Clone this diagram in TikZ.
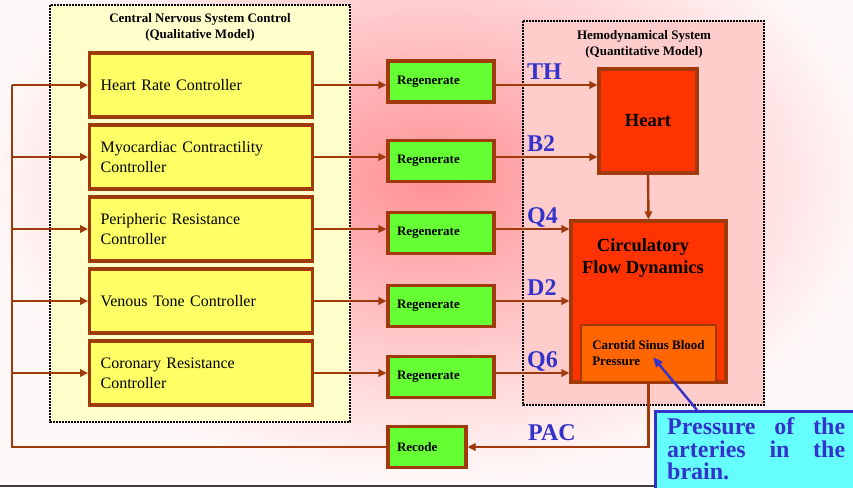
\documentclass[tikz,border=0pt]{standalone}
\usepackage{fontspec}
\setmainfont{Liberation Serif}
\usetikzlibrary{arrows.meta}
\definecolor{brn}{HTML}{A03A0A}
\definecolor{ylw}{HTML}{FFFF66}
\definecolor{paleylw}{HTML}{FFFFCC}
\definecolor{palepink}{HTML}{FFCCCC}
\definecolor{grn}{HTML}{66FF33}
\definecolor{hrt}{HTML}{FF3300}
\definecolor{car}{HTML}{FF6600}
\definecolor{blu}{HTML}{3333CC}
\definecolor{cyn}{HTML}{66FFFF}
\definecolor{bgin}{RGB}{255,145,150}
\definecolor{bgout}{RGB}{255,248,248}
\begin{document}
\begin{tikzpicture}[x=1pt,y=-1pt,
  ctrl/.style={draw=brn, line width=3.2pt, fill=ylw, minimum width=223pt, minimum height=64pt,
    text width=201pt, inner xsep=11pt, inner ysep=0pt, align=left,
    font=\fontsize{16}{20}\selectfont, anchor=west},
  regen/.style={draw=brn, line width=3.2pt, fill=grn, minimum width=106pt, minimum height=41pt,
    text width=88pt, inner xsep=9pt, inner ysep=0pt, align=left,
    font=\fontsize{13}{15}\selectfont\bfseries},
  redbox/.style={draw=brn, line width=3.2pt, fill=hrt, inner sep=0pt},
  dotbox/.style={draw=black, line width=1.6pt, dash pattern=on 1.6pt off 1.4pt},
  conn/.style={draw=brn, line width=2.4pt},
  arr/.style={conn, -{Triangle[length=8pt,width=7.5pt]}},
  lbl/.style={text=blu, font=\fontsize{24}{26}\selectfont\bfseries, anchor=base west, inner sep=0pt},
  ttl/.style={font=\fontsize{13}{16}\selectfont\bfseries, align=center, inner sep=0pt}
]
\useasboundingbox (0,0) rectangle (853,487);
% background
\begin{scope}
  \clip (0,0) rectangle (853,487);
  \fill[bgout] (0,0) rectangle (853,487);
  \shade[inner color=bgin, outer color=bgout] (-10,-120) rectangle (870,480);
\end{scope}
\draw[line width=2.5pt, draw=black!75] (0,485.8) -- (853,485.8);

% frames
\filldraw[fill=paleylw, dotbox] (50,5) rectangle (350,422);
\node[ttl] (cnst) at (200,27) {Central Nervous System Control\\(Qualitative Model)};
\filldraw[fill=palepink, dotbox] (523,21) rectangle (764,405);
\node[ttl] (hemt) at (644,44) {Hemodynamical System\\(Quantitative Model)};

% controllers
\node[ctrl] (c1) at (88,85) {Heart Rate Controller};
\node[ctrl] (c2) at (88,157) {Myocardiac Contractility\\Controller};
\node[ctrl] (c3) at (88,229) {Peripheric Resistance\\Controller};
\node[ctrl] (c4) at (88,301) {Venous Tone Controller};
\node[ctrl] (c5) at (88,373) {Coronary Resistance\\Controller};

% regenerate
\node[regen] (r1) at (441,81.5) {Regenerate};
\node[regen] (r2) at (441,161) {Regenerate};
\node[regen] (r3) at (441,233) {Regenerate};
\node[regen] (r4) at (441,306) {Regenerate};
\node[regen] (r5) at (441,377) {Regenerate};
\node[regen, minimum width=78pt, text width=60pt] (rc) at (427,447) {Recode};

% hemodynamic blocks
\node[redbox, minimum width=98pt, minimum height=104pt, font=\fontsize{18.5}{22}\selectfont\bfseries] (heart) at (648,121) {Heart};
\node[redbox, minimum width=155pt, minimum height=161pt] (circ) at (648.5,301.5) {};
\node[font=\fontsize{18.5}{22}\selectfont\bfseries, align=center, inner sep=0pt] (circt) at (643,258) {Circulatory\\Flow Dynamics};
\node[draw=brn, line width=2.6pt, fill=car, minimum width=135pt, minimum height=57pt, inner xsep=10pt, inner ysep=0pt,
  align=left, font=\fontsize{13}{16}\selectfont\bfseries] (cs) at (648.5,353.5) {Carotid Sinus Blood\\Pressure};

% connectors controller -> regenerate
\foreach \i in {1,...,5} {
  \draw[arr] (c\i.east) -- (c\i.east -| r\i.west);
}
% regenerate -> heart / circulatory
\draw[arr] (r1.east |- c1.east) -- (heart.west |- c1.east);
\draw[arr] (r2.east |- c2.east) -- (heart.west |- c2.east);
\draw[arr] (r3.east |- c3.east) -- (circ.west |- c3.east);
\draw[arr] (r4.east |- c4.east) -- (circ.west |- c4.east);
\draw[arr] (r5.east |- c5.east) -- (circ.west |- c5.east);
\draw[arr] (heart.south) -- (circ.north);

% feedback
\coordinate (bus) at (12,85);
\draw[arr] (cs.south) |- (rc.east);
\draw[conn] (rc.west) -| (bus);
\foreach \i in {1,...,5} {
  \draw[arr] (bus |- c\i.west) -- (c\i.west);
}

% labels
\node[lbl] (lth) at (527,79.5) {TH};
\node[lbl] (lb2) at (527,151.5) {B2};
\node[lbl] (lq4) at (527,223.5) {Q4};
\node[lbl] (ld2) at (527,295.5) {D2};
\node[lbl] (lq6) at (527,367.5) {Q6};
\node[lbl] (lpac) at (528,440) {PAC};

% callout
\begin{scope}
  \clip (0,0) rectangle (853,487);
  \filldraw[fill=cyn, draw=blu, line width=2.8pt] (655.5,411.5) rectangle (870,500);
\end{scope}
\coordinate (cbtop) at (697,410);
\coordinate (cstip) at (653,357);
\draw[draw=blu, line width=2.4pt, -{Triangle[length=10pt,width=8pt]}] (cbtop) -- (cstip);
\node[anchor=north west, inner sep=0pt, text=blu, font=\fontsize{24}{22.5}\selectfont\bfseries, align=left] (ctext) at (667,417.5)
  {\makebox[178pt][s]{Pressure of the}\\\makebox[178pt][s]{arteries in the}\\brain.};
\end{tikzpicture}
\end{document}
